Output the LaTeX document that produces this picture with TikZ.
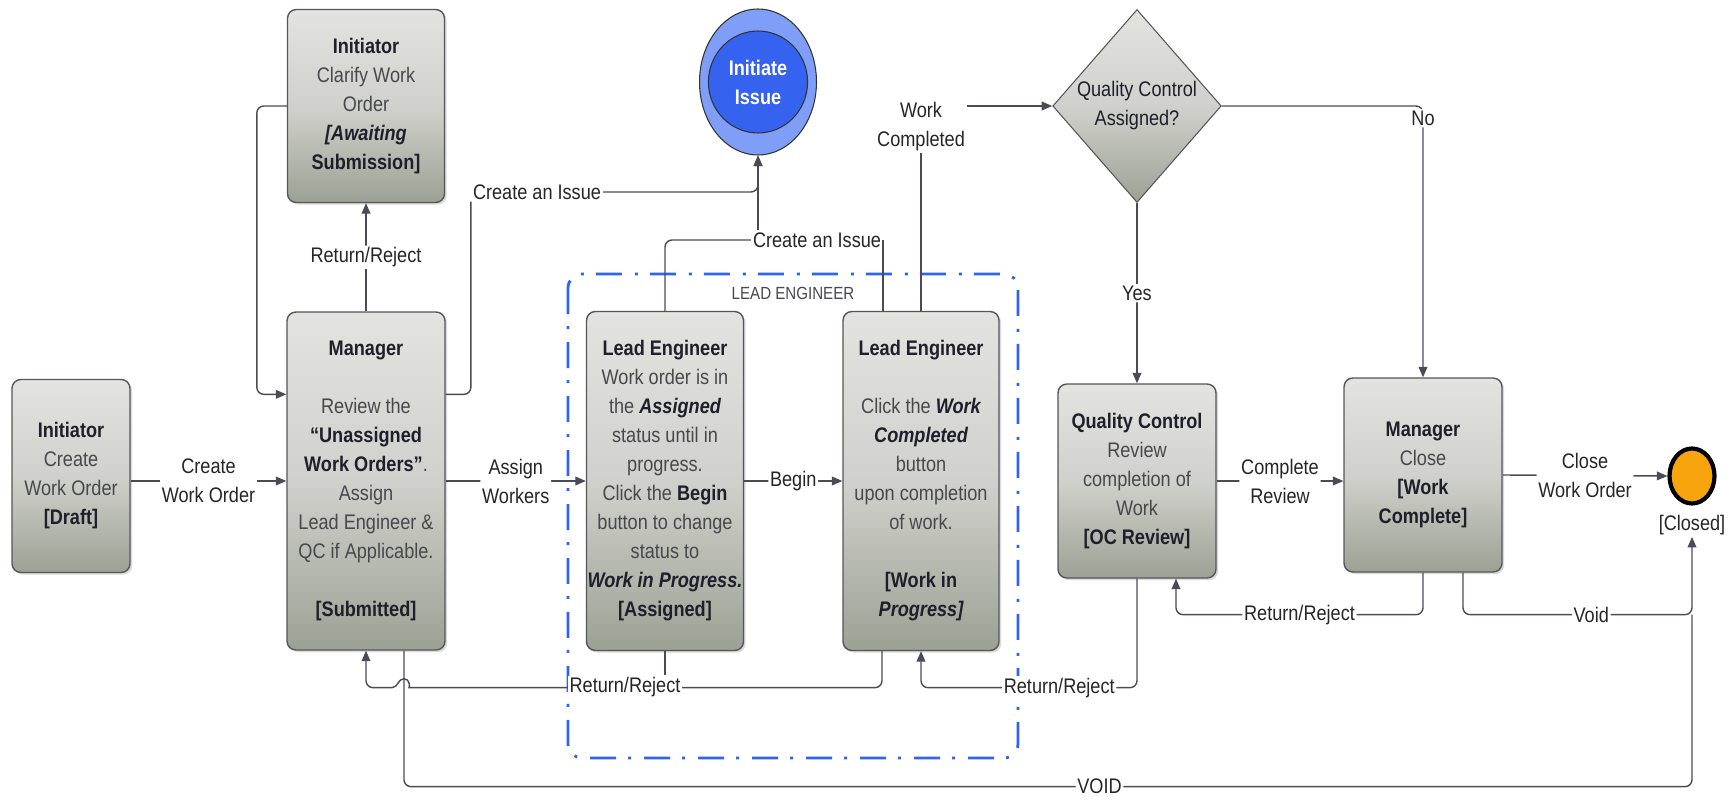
\documentclass[tikz,border=0pt]{standalone}
\usepackage{fontspec}
\setmainfont[FakeStretch=0.86]{Liberation Sans}
\usetikzlibrary{arrows.meta,calc,shapes.geometric,shadows}

\definecolor{boxtop}{HTML}{E3E3E0}
\definecolor{boxmid}{HTML}{D0D1CC}
\definecolor{boxbot}{HTML}{9DA194}
\definecolor{boxline}{HTML}{55555C}
\definecolor{wire}{HTML}{4A4B57}
\definecolor{bodytxt}{HTML}{47484C}
\definecolor{headtxt}{HTML}{1E1F2B}
\definecolor{laneblue}{HTML}{2F63F2}
\definecolor{issouter}{HTML}{7F9EF7}
\definecolor{issinner}{HTML}{3563F0}
\definecolor{endfill}{HTML}{F8A40C}

\newcommand{\bodyfont}{\fontsize{12}{16.5}\selectfont}
\newcommand{\hd}[1]{{\color{headtxt}\bfseries #1}}
\newcommand{\stt}[1]{{\color{headtxt}\bfseries #1}}
\newcommand{\sti}[1]{{\color{headtxt}\bfseries\itshape #1}}

\begin{document}
\begin{tikzpicture}[
  x=0.02cm, y=-0.02cm,
  every node/.style={font=\bodyfont},
  stbox/.style={draw=boxline, line width=0.8pt, rounded corners=5pt,
    top color=boxtop, bottom color=boxbot, middle color=boxmid,
    align=center, text=bodytxt, inner xsep=0pt,
    drop shadow={shadow xshift=1.2pt, shadow yshift=-1.2pt, opacity=0.3}},
  decide/.style={diamond, draw=boxline, line width=0.6pt, inner sep=0pt,
    top color=boxtop, bottom color=boxbot, middle color=boxmid,
    align=center, text=headtxt, minimum width=3.16cm, minimum height=3.86cm},
  wireln/.style={draw=wire, line width=0.8pt, rounded corners=4pt},
  arr/.style={wireln, -{Triangle[length=6pt,width=5pt]}},
  lbl/.style={fill=white, inner sep=1pt, align=center, text=black!85},
  lane/.style={draw=laneblue, line width=1.6pt, rounded corners=8pt,
    dash pattern=on 0.52cm off 0.24cm on 0.06cm off 0.26cm}
]
\useasboundingbox (0,0) rectangle (1732,800);

% ---------------- Lead engineer lane ----------------
\draw[lane] (568,274) rectangle (1018,758);
\node[text=bodytxt, font=\fontsize{10}{12}\selectfont] (lanelbl) at (793,293) {LEAD ENGINEER};

% ---------------- States ----------------
\node[stbox, minimum width=2.36cm, minimum height=3.86cm] (init) at (71,476)
  {\hd{Initiator}\\Create\\Work Order\\\stt{[Draft]}};
\node[stbox, minimum width=3.16cm, minimum height=6.76cm] (mgr) at (366,481)
  {\hd{Manager}\\[16.5pt]Review the\\\hd{“Unassigned}\\\hd{Work Orders”}.\\Assign\\Lead Engineer \&\\QC if Applicable.\\[16.5pt]\stt{[Submitted]}};
\node[stbox, minimum width=3.14cm, minimum height=3.86cm] (clar) at (366,106)
  {\hd{Initiator}\\Clarify Work\\Order\\\sti{[Awaiting}\\\stt{Submission]}};
\node[stbox, minimum width=3.14cm, minimum height=6.78cm] (le1) at (665,481)
  {\hd{Lead Engineer}\\Work order is in\\the \sti{Assigned}\\status until in\\progress.\\Click the \hd{Begin}\\button to change\\status to\\\sti{Work in Progress.}\\\stt{[Assigned]}};
\node[stbox, minimum width=3.12cm, minimum height=6.78cm] (le2) at (921,481)
  {\hd{Lead Engineer}\\[16.5pt]Click the \sti{Work}\\\sti{Completed}\\button\\upon completion\\of work.\\[16.5pt]\stt{[Work in}\\\stt{\itshape Progress]}};
\node[stbox, minimum width=3.16cm, minimum height=3.88cm] (qc) at (1137,481)
  {\hd{Quality Control}\\Review\\completion of\\Work\\\stt{[OC Review]}};
\node[stbox, minimum width=3.16cm, minimum height=3.88cm] (mcl) at (1423,475)
  {\hd{Manager}\\Close\\\stt{[Work}\\\stt{Complete]}};
\node[decide] (q) at (1137,106) {Quality Control\\Assigned?};

% issue start and end state
\node[ellipse, draw=black!80, line width=0.6pt, fill=issouter,
  minimum width=2.34cm, minimum height=2.92cm] (isso) at (758,82) {};
\node[ellipse, draw=black!80, line width=0.6pt, fill=issinner, text=white,
  align=center, minimum width=1.68cm, minimum height=2.04cm] (iss) at (758,82)
  {\bfseries Initiate\\\bfseries Issue};
\node[ellipse, draw=black, line width=2.4pt, fill=endfill,
  minimum width=0.9cm, minimum height=1.1cm] (fin) at (1692,476) {};
\node[lbl] (cl) at (1692,525) {[Closed]};

% ---------------- Main flow ----------------
\draw[arr] (init.east |- mgr.west) -- node[lbl]{Create\\Work Order} (mgr.west);
\draw[arr] (mgr.east) -- node[lbl]{Assign\\Workers} (le1.west);
\draw[arr] (le1.east) -- node[lbl]{Begin} (le2.west);
\draw[arr] (q.south) -- node[lbl]{Yes} (qc.north);
\draw[arr] (q.east) -| node[lbl, pos=0.5, yshift=-7pt]{No} (mcl.north);
\draw[arr] (qc.east) -- node[lbl]{Complete\\Review} (qc.east -| mcl.west);
\draw[arr] (mcl.east) -- node[lbl]{Close\\Work Order} (fin.west);

% clarify loop
\draw[arr] (mgr.north) -- node[lbl]{Return/Reject} (clar.south);
\draw[arr] (clar.west) -- ++(-30,0) |- ($(mgr.north west)+(0,83)$);

% ---------------- Issues ----------------
\node[lbl] (ci1) at (537,192) {Create an Issue};
\node[lbl] (ci2) at (817,240) {Create an Issue};
\draw[wireln] ($(mgr.north east)+(0,83)$) -| (ci1.south west);
\draw[arr] (ci1.east) -| (isso.south);
\draw[wireln] (le1.north) |- (ci2.west);
\draw[wireln] (le2.north -| ci2.east) -- (ci2.east);
\draw[arr] (ci2.north -| isso.south) -- (isso.south);

\node[lbl] (wc) at (921,127) {Work\\Completed};
\draw[wireln] (le2.north) -- (wc.south);
\draw[arr] (wc.east |- q.west) -- (q.west);

% ---------------- Returns and voids ----------------
\coordinate (rb) at ($(mgr.south)+(0,37)$); % return line level
\draw[arr] ($(le2.south)+(-39,0)$) |- ($(rb)+(50,0)$) [sharp corners]
  .. controls ($(rb)+(44,0)$) and ($(rb)+(44,-9)$) .. ($(rb)+(38,-9)$)
  .. controls ($(rb)+(32,-9)$) and ($(rb)+(32,0)$) .. ($(rb)+(26,0)$)
  [rounded corners=4pt] -| (mgr.south);
\node[lbl] (rr1) at ($(le1.south)+(-40,36)$) {Return/Reject};
\draw[wireln] (le1.south) -- (le1.south |- rr1.north);
\draw[arr] (qc.south) -- ++(0,109) -| node[lbl, pos=0.18]{Return/Reject} (le2.south);

\coordinate (jn) at ($(mcl.south)+(0,42)$);
\draw[arr] (mcl.south) -- (jn) -| node[lbl, pos=0.25]{Return/Reject} ($(qc.south)+(39,0)$);
\draw[arr] ($(mcl.south)+(40,0)$) -- ++(0,42) -| node[lbl, pos=0.28]{Void} (cl.south);
\draw[wireln] ($(mgr.south)+(38,0)$) -- ++(0,136) -| node[lbl, pos=0.27]{VOID} (jn -| cl.south);

\end{tikzpicture}
\end{document}
